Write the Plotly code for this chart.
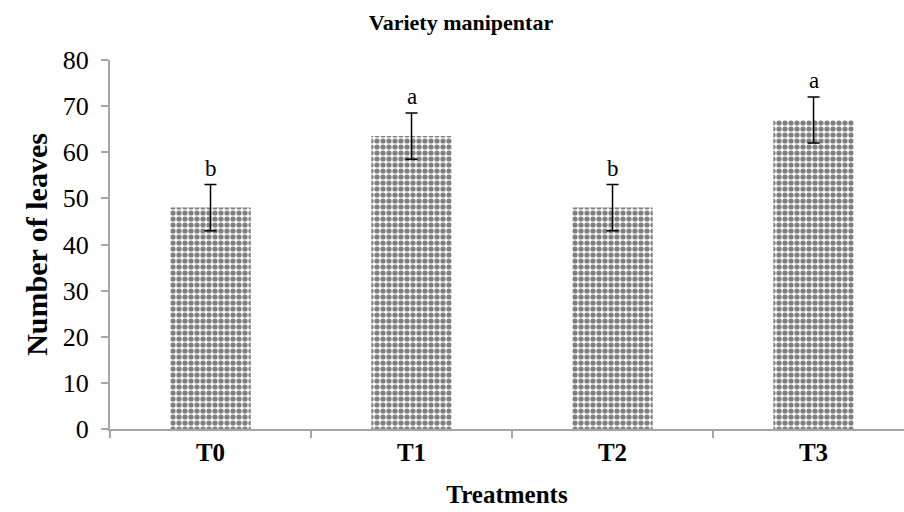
import plotly.graph_objects as go

treatments = ["T0", "T1", "T2", "T3"]
leaves = [48, 63.5, 48, 67]
errors = [5, 5, 5, 5]
letters = ["b", "a", "b", "a"]
y_ticks = [0, 10, 20, 30, 40, 50, 60, 70, 80]

serif = "Liberation Serif, Times New Roman, serif"
axis_col = "#a6a6a6"

fig = go.Figure()
fig.add_trace(go.Bar(
    x=treatments, y=leaves,
    marker=dict(color="white", line=dict(width=0),
                pattern=dict(shape=".", fgcolor="black", bgcolor="white", size=6, solidity=0.6)),
    error_y=dict(type="data", array=errors, symmetric=True,
                 color="black", thickness=1.5, width=6),
    showlegend=False,
))

for t, v, e, l in zip(treatments, leaves, errors, letters):
    fig.add_annotation(x=t, y=v + e, text=l, showarrow=False, yanchor="bottom", yshift=2,
                       font=dict(family=serif, size=23, color="black"))

fig.update_layout(
    width=904, height=512,
    margin=dict(l=110, r=0, t=60, b=83, autoexpand=False),
    paper_bgcolor="white", plot_bgcolor="white",
    bargap=0.6,
    title=dict(text="<b>Variety manipentar</b>", x=0.51, xanchor="center", y=0.957, yanchor="middle",
               font=dict(family=serif, size=22, color="black"), automargin=False),
    xaxis=dict(range=[-0.5, 3.45], showline=True, linecolor=axis_col, linewidth=2,
               ticks="outside", tickson="boundaries", ticklen=7, tickcolor=axis_col, tickwidth=2,
               tickfont=dict(family=serif, size=25, color="black"),
               tickvals=treatments, ticktext=["<b>%s</b>" % t for t in treatments],
               title=dict(text="<b>Treatments</b>", font=dict(family=serif, size=25, color="black"), standoff=20),
               showgrid=False, zeroline=False, automargin=False),
    yaxis=dict(range=[0, 80], tickvals=y_ticks, showline=True, linecolor=axis_col, linewidth=2,
               ticks="outside", ticklen=7, tickcolor=axis_col, tickwidth=2, ticklabelstandoff=7,
               tickfont=dict(family=serif, size=26, color="black"),
               title=dict(text="<b>Number of leaves</b>", font=dict(family=serif, size=30, color="black"), standoff=6),
               showgrid=False, zeroline=False, automargin=False),
)

fig.write_html("out.html", config={"displayModeBar": False},
               post_script="document.body.style.margin='0';document.body.style.overflow='hidden';")
